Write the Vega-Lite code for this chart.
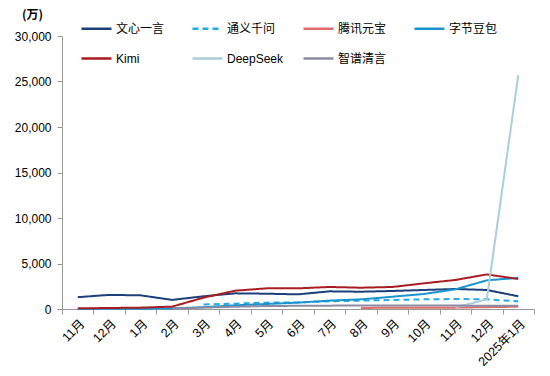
{
  "$schema": "https://vega.github.io/schema/vega-lite/v6.json",
  "autosize": "none",
  "width": 472,
  "height": 273,
  "padding": {"left": 62, "top": 36, "right": 16, "bottom": 67},
  "background": "white",
  "config": {
    "view": {"stroke": null},
    "font": "Liberation Sans"
  },
  "datasets": {
    "d": [
      {"s": "文心一言", "t": "2023-11", "v": 1300}, {"s": "文心一言", "t": "2023-12", "v": 1550}, {"s": "文心一言", "t": "2024-01", "v": 1500}, {"s": "文心一言", "t": "2024-02", "v": 1000}, {"s": "文心一言", "t": "2024-03", "v": 1400}, {"s": "文心一言", "t": "2024-04", "v": 1720}, {"s": "文心一言", "t": "2024-05", "v": 1680}, {"s": "文心一言", "t": "2024-06", "v": 1610}, {"s": "文心一言", "t": "2024-07", "v": 1940}, {"s": "文心一言", "t": "2024-08", "v": 1900}, {"s": "文心一言", "t": "2024-09", "v": 1980}, {"s": "文心一言", "t": "2024-10", "v": 2090}, {"s": "文心一言", "t": "2024-11", "v": 2200}, {"s": "文心一言", "t": "2024-12", "v": 2090}, {"s": "文心一言", "t": "2025-01", "v": 1400},
      {"s": "通义千问", "t": "2024-03", "v": 500}, {"s": "通义千问", "t": "2024-04", "v": 590}, {"s": "通义千问", "t": "2024-05", "v": 700}, {"s": "通义千问", "t": "2024-06", "v": 730}, {"s": "通义千问", "t": "2024-07", "v": 840}, {"s": "通义千问", "t": "2024-08", "v": 920}, {"s": "通义千问", "t": "2024-09", "v": 990}, {"s": "通义千问", "t": "2024-10", "v": 1060}, {"s": "通义千问", "t": "2024-11", "v": 1100}, {"s": "通义千问", "t": "2024-12", "v": 1060}, {"s": "通义千问", "t": "2025-01", "v": 840},
      {"s": "腾讯元宝", "t": "2024-08", "v": 120}, {"s": "腾讯元宝", "t": "2024-09", "v": 130}, {"s": "腾讯元宝", "t": "2024-10", "v": 140}, {"s": "腾讯元宝", "t": "2024-11", "v": 150}, {"s": "腾讯元宝", "t": "2024-12", "v": 200}, {"s": "腾讯元宝", "t": "2025-01", "v": 250},
      {"s": "字节豆包", "t": "2023-11", "v": 10}, {"s": "字节豆包", "t": "2023-12", "v": 20}, {"s": "字节豆包", "t": "2024-01", "v": 30}, {"s": "字节豆包", "t": "2024-02", "v": 60}, {"s": "字节豆包", "t": "2024-03", "v": 200}, {"s": "字节豆包", "t": "2024-04", "v": 400}, {"s": "字节豆包", "t": "2024-05", "v": 550}, {"s": "字节豆包", "t": "2024-06", "v": 700}, {"s": "字节豆包", "t": "2024-07", "v": 920}, {"s": "字节豆包", "t": "2024-08", "v": 1060}, {"s": "字节豆包", "t": "2024-09", "v": 1350}, {"s": "字节豆包", "t": "2024-10", "v": 1650}, {"s": "字节豆包", "t": "2024-11", "v": 2160}, {"s": "字节豆包", "t": "2024-12", "v": 3150}, {"s": "字节豆包", "t": "2025-01", "v": 3420},
      {"s": "Kimi", "t": "2023-11", "v": 70}, {"s": "Kimi", "t": "2023-12", "v": 110}, {"s": "Kimi", "t": "2024-01", "v": 150}, {"s": "Kimi", "t": "2024-02", "v": 260}, {"s": "Kimi", "t": "2024-03", "v": 1250}, {"s": "Kimi", "t": "2024-04", "v": 2010}, {"s": "Kimi", "t": "2024-05", "v": 2270}, {"s": "Kimi", "t": "2024-06", "v": 2270}, {"s": "Kimi", "t": "2024-07", "v": 2420}, {"s": "Kimi", "t": "2024-08", "v": 2340}, {"s": "Kimi", "t": "2024-09", "v": 2420}, {"s": "Kimi", "t": "2024-10", "v": 2820}, {"s": "Kimi", "t": "2024-11", "v": 3190}, {"s": "Kimi", "t": "2024-12", "v": 3800}, {"s": "Kimi", "t": "2025-01", "v": 3300},
      {"s": "DeepSeek", "t": "2024-11", "v": 180}, {"s": "DeepSeek", "t": "2024-12", "v": 1050}, {"s": "DeepSeek", "t": "2025-01", "v": 25700},
      {"s": "智谱清言", "t": "2024-02", "v": 30}, {"s": "智谱清言", "t": "2024-03", "v": 150}, {"s": "智谱清言", "t": "2024-04", "v": 250}, {"s": "智谱清言", "t": "2024-05", "v": 330}, {"s": "智谱清言", "t": "2024-06", "v": 350}, {"s": "智谱清言", "t": "2024-07", "v": 370}, {"s": "智谱清言", "t": "2024-08", "v": 380}, {"s": "智谱清言", "t": "2024-09", "v": 380}, {"s": "智谱清言", "t": "2024-10", "v": 380}, {"s": "智谱清言", "t": "2024-11", "v": 380}, {"s": "智谱清言", "t": "2024-12", "v": 350}, {"s": "智谱清言", "t": "2025-01", "v": 350}
    ]
  },
  "data": {"name": "d"},
  "mark": {"type": "line", "strokeWidth": 2},
  "encoding": {
    "x": {
      "field": "t",
      "type": "ordinal",
      "scale": {"type": "band", "paddingInner": 0, "paddingOuter": 0, "domain": ["2023-11","2023-12","2024-01","2024-02","2024-03","2024-04","2024-05","2024-06","2024-07","2024-08","2024-09","2024-10","2024-11","2024-12","2025-01"]},
      "axis": {
        "title": null,
        "tickBand": "extent",
        "labelAngle": -45,
        "labelExpr": "!isString(datum.value) ? '' : (datum.value == '2025-01' ? '2025年1月' : toNumber(substring(datum.value, 5)) + '月')",
        "labelFont": "Liberation Sans, Noto Sans CJK SC",
        "labelFontSize": 12.5,
        "labelColor": "#000",
        "domainColor": "#999",
        "tickColor": "#999",
        "tickSize": 5,
        "labelPadding": 3
      }
    },
    "y": {
      "field": "v",
      "type": "quantitative",
      "scale": {"domain": [0, 30000], "nice": false},
      "axis": {
        "values": [0, 5000, 10000, 15000, 20000, 25000, 30000],
        "format": ",.0f",
        "grid": false,
        "title": "(万)",
        "titleAngle": 0,
        "titleX": -30,
        "titleY": -22,
        "titleAlign": "center",
        "titleBaseline": "middle",
        "titleFontSize": 12,
        "titleFontWeight": "bold",
        "titleFont": "Noto Sans CJK SC",
        "labelFontSize": 12,
        "labelColor": "#000",
        "domainColor": "#999",
        "tickColor": "#999",
        "tickSize": 5,
        "labelPadding": 6
      }
    },
    "color": {
      "field": "s",
      "type": "nominal",
      "scale": {
        "domain": ["文心一言", "通义千问", "腾讯元宝", "字节豆包", "Kimi", "DeepSeek", "智谱清言"],
        "range": ["#1B3F7A", "#22A9E6", "#E06B6B", "#1A94CF", "#A91D22", "#A9CFDB", "#8B8CA3"]
      },
      "legend": {
        "title": null,
        "orient": "none",
        "legendX": 18,
        "legendY": -24,
        "direction": "horizontal",
        "columns": 4,
        "gridAlign": "all",
        "columnPadding": 14,
        "rowPadding": 7,
        "symbolType": "stroke",
        "symbolSize": 900,
        "symbolStrokeWidth": 2.5,
        "labelFont": "Liberation Sans, Noto Sans CJK SC",
        "labelFontSize": 12,
        "labelColor": "#000",
        "labelOffset": 3
      }
    },
    "strokeDash": {
      "field": "s",
      "type": "nominal",
      "scale": {
        "domain": ["文心一言", "通义千问", "腾讯元宝", "字节豆包", "Kimi", "DeepSeek", "智谱清言"],
        "range": [[1, 0], [6, 4], [1, 0], [1, 0], [1, 0], [1, 0], [1, 0]]
      }
    }
  }
}
